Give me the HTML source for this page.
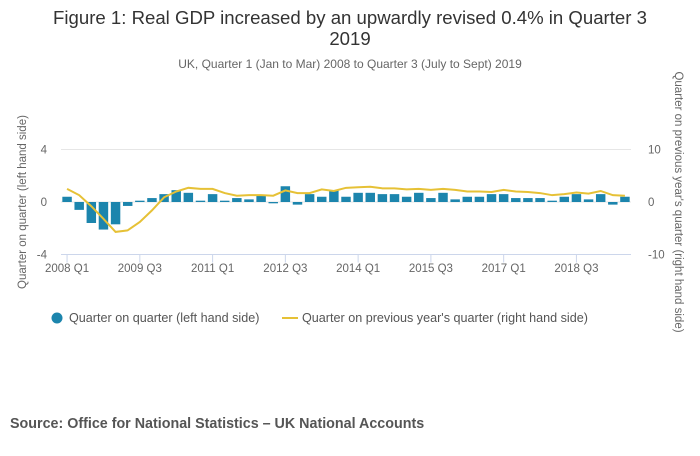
<!DOCTYPE html>
<html><head><meta charset="utf-8"><style>
body{margin:0;background:#fff;font-family:"Liberation Sans",sans-serif;}
svg text{font-family:"Liberation Sans",sans-serif;}
</style></head><body>
<svg width="700" height="451" id="c">
<text x="350" y="24" text-anchor="middle" font-size="18.6" fill="#333">Figure 1: Real GDP increased by an upwardly revised 0.4% in Quarter 3</text>
<text x="350" y="45" text-anchor="middle" font-size="18.6" fill="#333">2019</text>
<text x="350" y="68" text-anchor="middle" font-size="12" fill="#666">UK, Quarter 1 (Jan to Mar) 2008 to Quarter 3 (July to Sept) 2019</text>
<text transform="translate(26,202) rotate(-90)" text-anchor="middle" font-size="11.5" fill="#666">Quarter on quarter (left hand side)</text>
<text transform="translate(675,202) rotate(90)" text-anchor="middle" font-size="11.5" fill="#666">Quarter on previous year's quarter (right hand side)</text>
<g id="grid"></g><g id="bars"></g><g id="line"></g><g id="axes"></g>
<g>
<circle cx="57" cy="318" r="5.5" fill="#1c85ad"/>
<text x="69" y="322" font-size="12.6" fill="#555">Quarter on quarter (left hand side)</text>
<line x1="282" y1="318" x2="298" y2="318" stroke="#e6c136" stroke-width="2"/>
<text x="302" y="322" font-size="12.6" fill="#555">Quarter on previous year's quarter (right hand side)</text>
</g>
<text x="10" y="428" font-size="14.3" font-weight="bold" fill="#555">Source: Office for National Statistics – UK National Accounts</text>
</svg>
<script>
const categories=["2008 Q1","2008 Q2","2008 Q3","2008 Q4","2009 Q1","2009 Q2","2009 Q3","2009 Q4","2010 Q1","2010 Q2","2010 Q3","2010 Q4","2011 Q1","2011 Q2","2011 Q3","2011 Q4","2012 Q1","2012 Q2","2012 Q3","2012 Q4","2013 Q1","2013 Q2","2013 Q3","2013 Q4","2014 Q1","2014 Q2","2014 Q3","2014 Q4","2015 Q1","2015 Q2","2015 Q3","2015 Q4","2016 Q1","2016 Q2","2016 Q3","2016 Q4","2017 Q1","2017 Q2","2017 Q3","2017 Q4","2018 Q1","2018 Q2","2018 Q3","2018 Q4","2019 Q1","2019 Q2","2019 Q3"];
const qoqValues=[0.4,-0.6,-1.6,-2.1,-1.7,-0.3,0.1,0.3,0.6,0.9,0.7,0.1,0.6,0.1,0.3,0.2,0.5,-0.1,1.2,-0.2,0.6,0.4,0.9,0.4,0.7,0.7,0.6,0.6,0.4,0.7,0.3,0.7,0.2,0.4,0.4,0.6,0.6,0.3,0.3,0.3,0.1,0.4,0.6,0.2,0.6,-0.2,0.4];
const yoyValues=[2.5,1.3,-0.8,-3.2,-5.7,-5.4,-3.8,-1.6,0.9,2.0,2.7,2.5,2.5,1.7,1.2,1.3,1.3,1.2,2.2,1.7,1.7,2.4,2.1,2.7,2.8,2.9,2.6,2.6,2.4,2.5,2.3,2.5,2.3,2.0,2.0,1.9,2.3,2.0,1.9,1.7,1.3,1.5,1.8,1.6,2.1,1.3,1.2];
const leftTicks=[4,0,-4];
const rightTicks=[10,0,-10];
const xTickLabels=["2008 Q1","2009 Q3","2011 Q1","2012 Q3","2014 Q1","2015 Q3","2017 Q1","2018 Q3"];
const NS="http://www.w3.org/2000/svg";
const X0=61,X1=631,Y0=149.5,Y1=254.5;
const step=(X1-X0)/categories.length;
const xC=i=>X0+step*(i+0.5);
const yL=v=>202-v*(Y1-Y0)/8;
const yR=v=>202-v*(Y1-Y0)/20;
function mk(tag,attrs,parent){const e=document.createElementNS(NS,tag);for(const k in attrs)e.setAttribute(k,attrs[k]);document.getElementById(parent).appendChild(e);return e;}
leftTicks.forEach((t,i)=>{
 const g=mk('line',{x1:X0,x2:X1,y1:yL(t),y2:yL(t),stroke:'#e6e6e6'},'grid');
 
 
 const l=mk('text',{x:47,y:yL(t)+4,'text-anchor':'end','font-size':11.5,fill:'#666'},'axes');l.textContent=t;
 
 
});
rightTicks.forEach(t=>{
 const l=mk('text',{x:648,y:yR(t)+4,'font-size':11.5,fill:'#666'},'axes');l.textContent=t;
 
 
});
qoqValues.forEach((v,i)=>{
 const w=step*0.78;
 const r=mk('rect',{x:xC(i)-w/2,y:Math.min(yL(v),yL(0)),width:w,height:Math.abs(yL(v)-yL(0)),fill:'#1c85ad'},'bars');
 
 
});
const p=mk('path',{d:yoyValues.map((v,i)=>(i?'L':'M')+xC(i)+','+yR(v)).join(''),fill:'none',stroke:'#e6c136','stroke-width':2},'line');


const ax=mk('line',{x1:X0,x2:X1,y1:Y1,y2:Y1,stroke:'#ccd6eb'},'axes');


xTickLabels.forEach(lab=>{
 const i=categories.indexOf(lab);
 const t=mk('line',{x1:xC(i),x2:xC(i),y1:Y1,y2:Y1+8,stroke:'#ccd6eb'},'axes');
 
 
 const l=mk('text',{x:xC(i),y:272,'text-anchor':'middle','font-size':11.5,fill:'#666'},'axes');l.textContent=lab;
 
 
});
</script>
</body></html>
